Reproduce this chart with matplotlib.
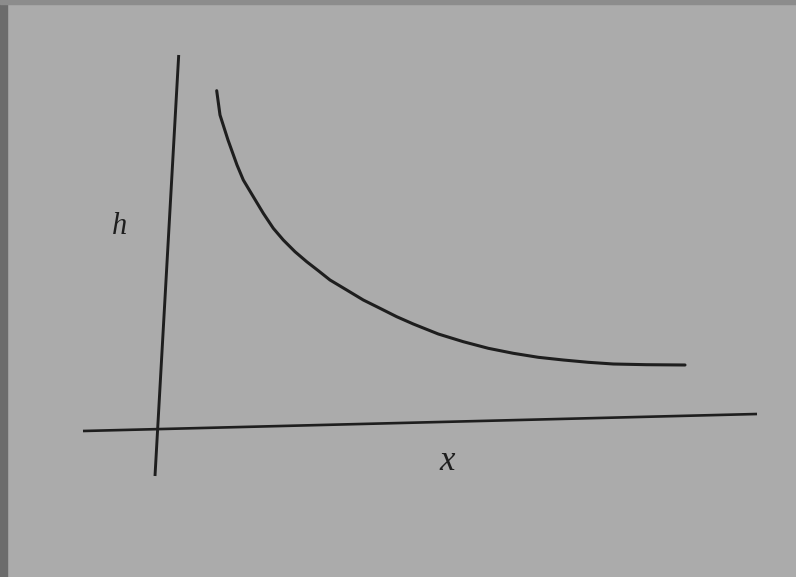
import matplotlib.pyplot as plt
from matplotlib.patches import Rectangle

# sketched curve h(x), origin at the crossing of the axes
curve_x = [59.7, 63, 71, 80, 86.3, 96.3, 106.3, 116.3, 126.3, 138, 149.7, 161.3, 173,
           189.7, 206.3, 223, 239.7, 256.3, 281.3, 306.3, 331.3, 356.3, 381.3, 406.3,
           431.3, 456.3, 489.7, 528]
curve_h = [338.3, 314, 289, 264, 249, 232.3, 215.7, 200.7, 189, 177.3, 167.3, 158.3, 149,
           139, 129, 120.7, 112.3, 105, 95, 87.3, 80.7, 75.7, 71.7, 69,
           66.7, 65, 64.3, 64]

# hand-drawn axes (slightly skewed)
xaxis_x = [-74, 600]
xaxis_h = [-2, 15]
yaxis_x = [-2, 21.7]
yaxis_h = [-47, 374]

paper = '#ababab'
ink = '#1e1e1e'

fig = plt.figure(figsize=(7.96, 5.77), dpi=100, facecolor=paper)
ax = fig.add_axes([0, 0, 1, 1])
ax.set_facecolor(paper)
ax.set_xlim(-157, 639)
ax.set_ylim(-148, 429)
ax.axis('off')

# dark page edges
fig.patches.append(Rectangle((0, 0), 0.009, 1, transform=fig.transFigure,
                             color='#6c6c6c', zorder=0))
fig.patches.append(Rectangle((0, 0.993), 1, 0.007, transform=fig.transFigure,
                             color='#8c8c8c', zorder=0))

ax.plot(xaxis_x, xaxis_h, color=ink, lw=1.9, solid_capstyle='butt')
ax.plot(yaxis_x, yaxis_h, color=ink, lw=2.1, solid_capstyle='butt')
ax.plot(curve_x, curve_h, color=ink, lw=2.2, solid_capstyle='round', solid_joinstyle='round')

ax.text(-37, 202, 'h', fontsize=22, family='Liberation Serif', style='italic',
        color=ink, ha='center', va='center')
ax.text(290, -32, 'x', fontsize=25, family='Liberation Serif', style='italic',
        color=ink, ha='center', va='center')

fig.savefig('out.png', dpi=100, facecolor=paper)
